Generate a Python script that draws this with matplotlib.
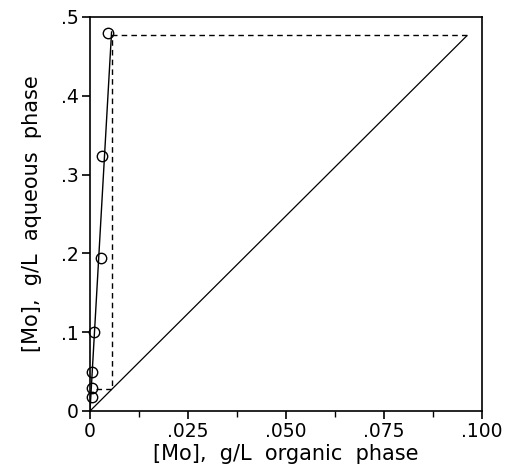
import matplotlib
matplotlib.use("Agg")
import matplotlib.pyplot as plt
from matplotlib.ticker import FixedLocator

# Data
org_pts = [0.0045, 0.0031, 0.0029, 0.0010, 0.0006, 0.0006, 0.0005]
aq_pts = [0.480, 0.323, 0.194, 0.100, 0.050, 0.029, 0.018]

eq_line_x = [0.0, 0.0055]
eq_line_y = [0.0, 0.481]

op_line_x = [0.0, 0.0961]
op_line_y = [0.0, 0.476]

step_x = [0.0961, 0.0055, 0.0055, 0.0008]
step_y = [0.477, 0.477, 0.028, 0.028]

xticks = [0.0, 0.025, 0.050, 0.075, 0.100]
xticklabels = ["0", ".025", ".050", ".075", ".100"]
yticks = [0.0, 0.1, 0.2, 0.3, 0.4, 0.5]
yticklabels = ["0", ".1", ".2", ".3", ".4", ".5"]

fig = plt.figure(figsize=(5.05, 4.72), dpi=100)
ax = fig.add_axes([90/505, 61/472, 392/505, 394/472])

ax.plot(eq_line_x, eq_line_y, color="black", lw=1.0)
ax.plot(op_line_x, op_line_y, color="black", lw=0.9)
ax.plot(step_x, step_y, color="black", lw=1.0, ls=(0, (4, 3)))
ax.plot(org_pts, aq_pts, ls="none", marker="o", ms=7.5, mfc="none",
        mec="black", mew=1.0, clip_on=False)

ax.set_xlim(0, 0.1)
ax.set_ylim(0, 0.5)
ax.set_xticks(xticks)
ax.set_xticklabels(xticklabels)
ax.set_yticks(yticks)
ax.set_yticklabels(yticklabels)
ax.xaxis.set_minor_locator(FixedLocator([0.0125, 0.0375, 0.0625, 0.0875]))

for s in ax.spines.values():
    s.set_linewidth(1.2)
ax.tick_params(which="major", direction="out", length=6, width=1.2,
               labelsize=13.5, pad=2)
ax.tick_params(which="minor", direction="out", length=4, width=1.0)

ax.set_xlabel("[Mo],  g/L  organic  phase", fontsize=15, labelpad=2)
ax.set_ylabel("[Mo],  g/L  aqueous  phase", fontsize=15, labelpad=14)

fig.savefig("out.png", dpi=100)
